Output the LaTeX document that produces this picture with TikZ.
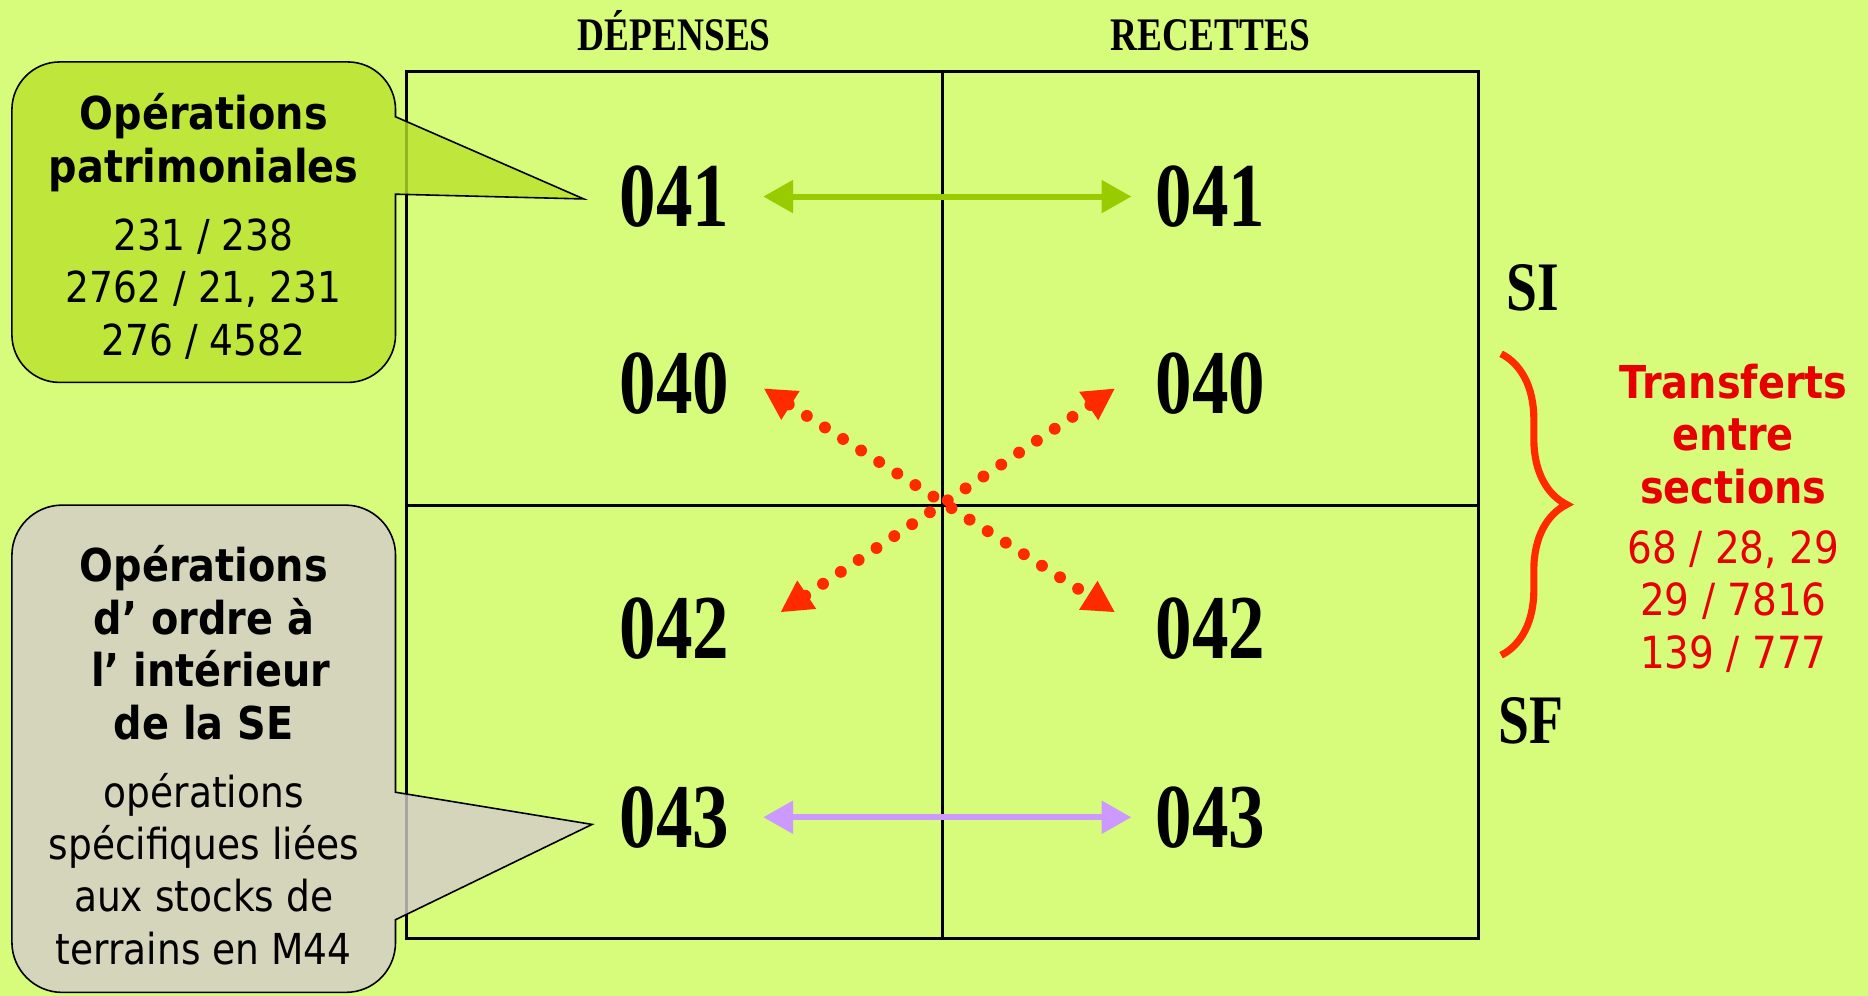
\documentclass[tikz,border=0pt]{standalone}
\usepackage{fontspec}
\setmainfont{DejaVu Sans}[FakeStretch=0.88]
\newfontfamily\timesc[FakeStretch=0.8]{Liberation Serif}
\usetikzlibrary{arrows.meta,decorations.pathreplacing}
\definecolor{fond}{HTML}{D7FB7B}
\definecolor{bulleverte}{HTML}{B8E12C}
\definecolor{bullegrise}{HTML}{D4CCCC}
\definecolor{vertfleche}{HTML}{99CC00}
\definecolor{mauve}{HTML}{CC99FF}
\definecolor{rougeor}{HTML}{FF2A00}
\definecolor{rougetxt}{HTML}{E60000}
\newcommand{\gras}{\bfseries\fontsize{22.8}{26.4}\selectfont}
\newcommand{\maigre}{\mdseries\fontsize{21.5}{26.4}\selectfont}
\newcommand{\maigrer}{\mdseries\fontsize{22.3}{27.6}\selectfont}
\begin{document}
\begin{tikzpicture}[x=0.6pt, y=-0.6pt, >={Triangle[length=15pt,width=16pt]},
  num/.style={font=\timesc\bfseries\fontsize{46}{46}\selectfont, inner sep=0pt},
  entete/.style={font=\timesc\bfseries\fontsize{23.5}{24}\selectfont, anchor=base},
  section/.style={font=\timesc\bfseries\fontsize{35}{35}\selectfont},
  grille/.style={line width=1.6pt},
  bulle/.style={draw=black, line width=0.8pt, fill opacity=0.8},
  pointille/.style={<->, rougeor, line width=6pt, line cap=round, dash pattern=on 0pt off 10.8pt, >={Triangle[length=16pt,width=16pt]}},
  texte/.style={align=center, font=\maigre}]
				% 背景
				\useasboundingbox (0,0) rectangle (1568,836);
				\fill[fond] (0,0) rectangle (1568,836);
				
				% 表格
				\draw[grille] (341,60) rectangle (1241,788);
				\draw[grille] (791,60) -- (791,788);
				\draw[grille] (341,424) -- (1241,424);
				\node[entete] (dep) at (566,42) {DÉPENSES};
				\node[entete] (rec) at (1016,42) {RECETTES};
				
				% 编号
				\node[num] (d041) at (566,165) {041};
				\node[num] (r041) at (1016,165) {041};
				\node[num] (d040) at (566,322) {040};
				\node[num] (r040) at (1016,322) {040};
				\node[num] (d042) at (566,528) {042};
				\node[num] (r042) at (1016,528) {042};
				\node[num] (d043) at (566,686) {043};
				\node[num] (r043) at (1016,686) {043};
				
				% 双向箭头
				\draw[<->, vertfleche, line width=3pt, shorten <=17pt, shorten >=12pt] (d041) -- (r041);
				\draw[<->, mauve, line width=3pt, shorten <=17pt, shorten >=12pt] (d043) -- (r043);
				
				% 交叉虚线
				\coordinate (hg) at (641,326);
				\coordinate (hd) at (936,326);
				\coordinate (bg) at (655,514);
				\coordinate (bd) at (936,514);
				\draw[pointille] (hg) -- (bd);
				\draw[pointille] (hd) -- (bg);
				
				% 气泡
				\draw[bulle, fill=bulleverte] (332,163) -- (332,281) .. controls (332,303) and (314,321) .. (292,321) -- (50,321) .. controls (28,321) and (10,303) .. (10,281) -- (10,92) .. controls (10,70) and (28,52) .. (50,52) -- (292,52) .. controls (314,52) and (332,70) .. (332,92) -- (332,98) -- (490,167) -- cycle;
				\draw[bulle, fill=bullegrise] (332,772) -- (332,791) .. controls (332,814) and (314,833) .. (290,833) -- (52,833) .. controls (29,833) and (10,814) .. (10,791) -- (10,466) .. controls (10,443) and (29,424) .. (52,424) -- (290,424) .. controls (313,424) and (332,443) .. (332,466) -- (332,665) -- (497,692) -- cycle;
				\node[texte] (patri) at (171,190) {\gras Opérations\\\gras patrimoniales\\[7.8pt]\maigre 231 / 238\\\maigre 2762 / 21, 231\\\maigre 276 / 4582};
				\node[texte] (ordre) at (171,634) {\gras Opérations\\\gras d’ ordre à\\\gras\ l’ intérieur\\\gras de la SE\\[7.8pt]\maigre opérations\\\maigre spécifiques liées\\\maigre aux stocks de\\\maigre terrains en M44};
				
				% 右侧
				\node[section] (si) at (1287,242) {SI};
				\node[section] (sf) at (1285,605) {SF};
				\draw[rougeor, line width=3.6pt, decorate, decoration={brace, amplitude=33pt}] (1260,297) -- (1260,550);
				\node[texte, rougetxt] (transf) at (1455,435) {\gras Transferts\\\gras entre\\\gras sections\\[4pt]\maigrer 68 / 28, 29\\\maigrer 29 / 7816\\\maigrer 139 / 777};
			\end{tikzpicture}
\end{document}
